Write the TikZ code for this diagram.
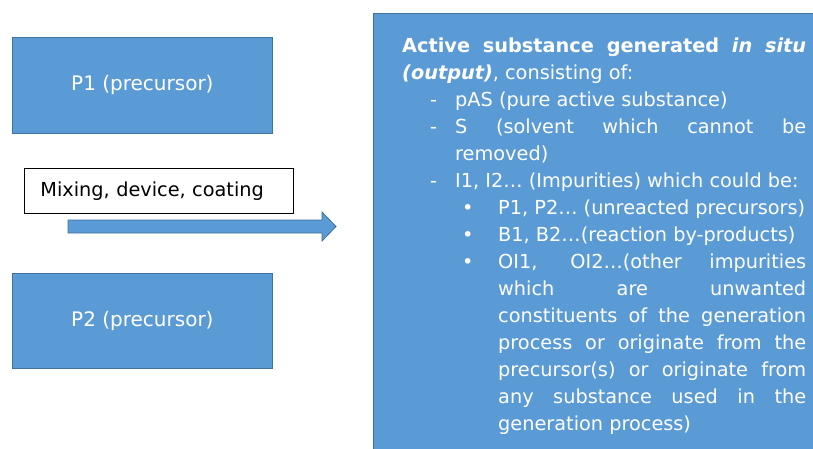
\documentclass[tikz,border=0pt]{standalone}
\usepackage{fontspec}
\setmainfont{DejaVu Sans}[BoldFont={DejaVu Sans Bold},ItalicFont={DejaVu Sans Oblique},BoldItalicFont={DejaVu Sans Bold Oblique}]
\definecolor{boxblue}{HTML}{5B9BD5}
\definecolor{boxedge}{HTML}{41719C}
\begin{document}
\begin{tikzpicture}[x=1pt,y=-1pt,
  bluebox/.style={draw=boxedge, fill=boxblue, line width=0.8pt},
  bigfont/.style={font=\fontsize{19.3}{27}\selectfont},
  txt/.style={anchor=base west, inner sep=0pt, text=white, bigfont},
]
\useasboundingbox (0,0) rectangle (813,448);
\clip (0,0) rectangle (813,448);
\fill[white] (0,0) rectangle (813,448);

% left boxes
\node[bluebox, minimum width=260pt, minimum height=96pt, anchor=north west, text=white, font=\fontsize{20}{24}\selectfont] (p1) at (12,37) {P1 (precursor)};
\node[bluebox, minimum width=260pt, minimum height=95pt, anchor=north west, text=white, font=\fontsize{20}{24}\selectfont] (p2) at (12,273) {P2 (precursor)};
\node[draw=black, fill=white, line width=0.8pt, text width=237pt, inner xsep=16pt, minimum height=45pt, anchor=north west, align=left, text=black, font=\fontsize{19.3}{23}\selectfont] (mix) at (24,168) {Mixing, device, coating};

% block arrow
\coordinate (as) at (68,226.5);
\coordinate (ae) at (336,226.5);
\draw[bluebox] ([yshift=6.5pt]as) -- ([xshift=-14pt,yshift=6.5pt]ae) -- ([xshift=-14pt,yshift=14.5pt]ae) -- (ae)
  -- ([xshift=-14pt,yshift=-14.5pt]ae) -- ([xshift=-14pt,yshift=-6.5pt]ae) -- ([yshift=-6.5pt]as) -- cycle;

% output box
\node[bluebox, minimum width=460pt, minimum height=460pt, anchor=north west] (out) at (373,13) {};

\node[txt] (l1) at (402,52) {\makebox[404pt][s]{\bfseries Active substance generated \textit{in situ}}};
\node[txt] (l2) at (402,79) {{\bfseries\itshape (output)}, consisting of:};
\node[txt] (d1) at (430,106) {-};
\node[txt] (l3) at (455,106) {pAS (pure active substance)};
\node[txt] (d2) at (430,133) {-};
\node[txt] (l4) at (455,133) {\makebox[351pt][s]{S (solvent which cannot be}};
\node[txt] (l5) at (455,160) {removed)};
\node[txt] (d3) at (430,187) {-};
\node[txt] (l6) at (455,187) {I1, I2… (Impurities) which could be:};
\node[txt] (b1) at (462,214) {•};
\node[txt] (l7) at (498,214) {P1, P2… (unreacted precursors)};
\node[txt] (b2) at (462,241) {•};
\node[txt] (l8) at (498,241) {B1, B2…(reaction by-products)};
\node[txt] (b3) at (462,268) {•};
\node[txt] (l9) at (498,268) {\makebox[308pt][s]{OI1, OI2…(other impurities}};
\node[txt] (l10) at (498,295) {\makebox[308pt][s]{which are unwanted}};
\node[txt] (l11) at (498,322) {\makebox[308pt][s]{constituents of the generation}};
\node[txt] (l12) at (498,349) {\makebox[308pt][s]{process or originate from the}};
\node[txt] (l13) at (498,376) {\makebox[308pt][s]{precursor(s) or originate from}};
\node[txt] (l14) at (498,403) {\makebox[308pt][s]{any substance used in the}};
\node[txt] (l15) at (498,430) {generation process)};
\end{tikzpicture}
\end{document}
